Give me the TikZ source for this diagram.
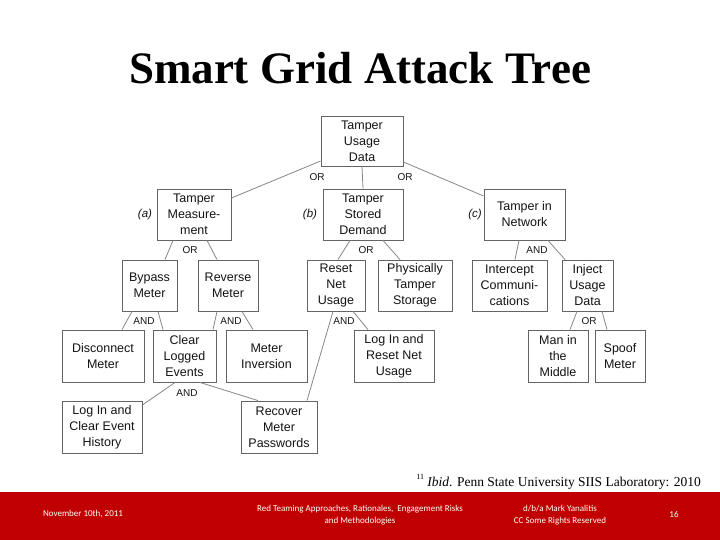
\documentclass[tikz,border=0pt]{standalone}
\usepackage{fontspec}
\setmainfont{Liberation Serif}
\newfontfamily\arial{Liberation Sans}
\newfontfamily\calib{Carlito}
\usetikzlibrary{calc}
\definecolor{boxgray}{RGB}{100,100,100}
\definecolor{linegray}{RGB}{135,135,135}
\definecolor{txtgray}{RGB}{20,20,20}
\definecolor{footred}{RGB}{192,0,0}
\tikzset{
  tbox/.style={draw=boxgray, line width=0.9pt, inner sep=0pt, align=center,
    text=txtgray, font=\arial\fontsize{12.5}{16}\selectfont},
  conn/.style={draw=linegray, line width=0.8pt},
  gate/.style={inner sep=0pt, text=txtgray, font=\arial\fontsize{10}{10}\selectfont},
  tag/.style={inner sep=0pt, text=txtgray, font=\arial\itshape\fontsize{11.5}{12}\selectfont},
  foot/.style={inner sep=0pt, text=white, align=center, font=\calib\fontsize{9}{11.5}\selectfont}
}
\begin{document}
\begin{tikzpicture}[x=1pt,y=-1pt]
\useasboundingbox (0,0) rectangle (720,540);
\fill[white] (0,0) rectangle (720,540);
% title
\node[inner sep=0pt, anchor=base, font=\bfseries\fontsize{45}{46}\selectfont] (title) at (360,84) {Smart Grid Attack Tree};
% boxes
\node[tbox, minimum width=82pt, minimum height=50pt] (top) at (362,141) {Tamper\\Usage\\Data};
\node[tbox, minimum width=74pt, minimum height=51pt] (tm) at (194,214.5) {Tamper\\Measure-\\ment};
\node[tbox, minimum width=80pt, minimum height=51pt] (tsd) at (363,214.5) {Tamper\\Stored\\Demand};
\node[tbox, minimum width=81pt, minimum height=51pt] (tin) at (524.5,214.5) {Tamper in\\Network};
\node[tbox, minimum width=55pt, minimum height=51pt] (bp) at (149.5,285.5) {Bypass\\Meter};
\node[tbox, minimum width=60pt, minimum height=51pt] (rv) at (228,285.5) {Reverse\\Meter};
\node[tbox, minimum width=58pt, minimum height=51pt] (rnu) at (336,285.5) {Reset\\Net\\Usage};
\node[tbox, minimum width=74pt, minimum height=51pt] (pts) at (415,285.5) {Physically\\Tamper\\Storage};
\node[tbox, minimum width=75pt, minimum height=51pt] (ic) at (509.5,285.5) {Intercept\\Communi-\\cations};
\node[tbox, minimum width=51pt, minimum height=51pt] (iud) at (587.5,285.5) {Inject\\Usage\\Data};
\node[tbox, minimum width=82pt, minimum height=52pt] (dm) at (103,356) {Disconnect\\Meter};
\node[tbox, minimum width=63pt, minimum height=52pt] (cle) at (184.5,356) {Clear\\Logged\\Events};
\node[tbox, minimum width=81pt, minimum height=52pt] (mi) at (266.5,356) {Meter\\Inversion};
\node[tbox, minimum width=80pt, minimum height=52pt] (lir) at (394,356) {Log In and\\Reset Net\\Usage};
\node[tbox, minimum width=60pt, minimum height=52pt] (mitm) at (558,356) {Man in\\the\\Middle};
\node[tbox, minimum width=50pt, minimum height=52pt] (sm) at (620,356) {Spoof\\Meter};
\node[tbox, minimum width=80pt, minimum height=52pt] (lic) at (102,427) {Log In and\\Clear Event\\History};
\node[tbox, minimum width=76pt, minimum height=52pt] (rmp) at (279,427) {Recover\\Meter\\Passwords};
% side tags
\node[tag] (ta) at (145,215) {(a)};
\node[tag] (tb) at (310,215) {(b)};
\node[tag] (tc) at (475,215) {(c)};
% connectors
\draw[conn] ($(top.west)+(0,20)$) -- ($(tm.east)+(0,-16.5)$);
\draw[conn] (top.south) -- (tsd.north);
\draw[conn] ($(top.east)+(0,21)$) -- ($(tin.west)+(0,-18.5)$);
\draw[conn] ($(tm.south)+(-21,0)$) -- ($(bp.north)+(15.5,0)$);
\draw[conn] ($(tm.south)+(13,0)$) -- ($(rv.north)+(-11,0)$);
\draw[conn] ($(tsd.south)+(-13,0)$) -- ($(rnu.north)+(2,0)$);
\draw[conn] ($(tsd.south)+(20,0)$) -- ($(pts.north)+(-15,0)$);
\draw[conn] ($(tin.south)+(-5.5,0)$) -- ($(ic.north)+(5.5,0)$);
\draw[conn] ($(tin.south)+(23.5,0)$) -- ($(iud.north)+(-22.5,0)$);
\draw[conn] ($(bp.south)+(-17.5,0)$) -- ($(dm.north)+(19,0)$);
\draw[conn] ($(bp.south)+(8.5,0)$) -- ($(cle.north)+(-21.5,0)$);
\draw[conn] ($(rv.south)+(-11,0)$) -- ($(cle.north)+(28.5,0)$);
\draw[conn] ($(rv.south)+(14,0)$) -- ($(mi.north)+(-13.5,0)$);
\draw[conn] ($(rnu.south)+(-3,0)$) -- ($(rmp.north)+(28,0)$);
\draw[conn] ($(rnu.south)+(17,0)$) -- ($(lir.north)+(-26,0)$);
\draw[conn] ($(iud.south)+(-10.5,0)$) -- ($(mitm.north)+(12,0)$);
\draw[conn] ($(iud.south)+(14.5,0)$) -- ($(sm.north)+(-13,0)$);
\draw[conn] ($(cle.south)+(-9.5,0)$) -- ($(lic.east)+(0,-22)$);
\draw[conn] ($(cle.south)+(15.5,0)$) -- ($(rmp.north)+(-21,0)$);
% gate labels
\node[gate] (g1) at (317,177) {OR};
\node[gate] (g2) at (405,177) {OR};
\node[gate] (g3) at (190,250) {OR};
\node[gate] (g4) at (366,250) {OR};
\node[gate] (g5) at (537,250) {AND};
\node[gate] (g6) at (144,321) {AND};
\node[gate] (g7) at (231,321) {AND};
\node[gate] (g8) at (344,321) {AND};
\node[gate] (g9) at (589,321) {OR};
\node[gate] (g10) at (187,393) {AND};
% footnote
\node[inner sep=0pt, anchor=base east, font=\fontsize{13.5}{14}\selectfont] (fn) at (701,486) {\raisebox{0.45em}{\fontsize{8}{8}\selectfont 11} \textit{Ibid}. Penn State University SIIS Laboratory: 2010};
% footer band
\fill[footred] (0,492) rectangle (720,540);
\node[foot] (f1) at (83,514) {November 10th, 2011};
\node[foot] (f2) at (360,515) {Red Teaming Approaches, Rationales,\ \ Engagement Risks\\and Methodologies};
\node[foot] (f3) at (560,515) {d/b/a Mark Yanalitis\\CC Some Rights Reserved};
\node[foot] (f4) at (674,514) {16};
\end{tikzpicture}
\end{document}
